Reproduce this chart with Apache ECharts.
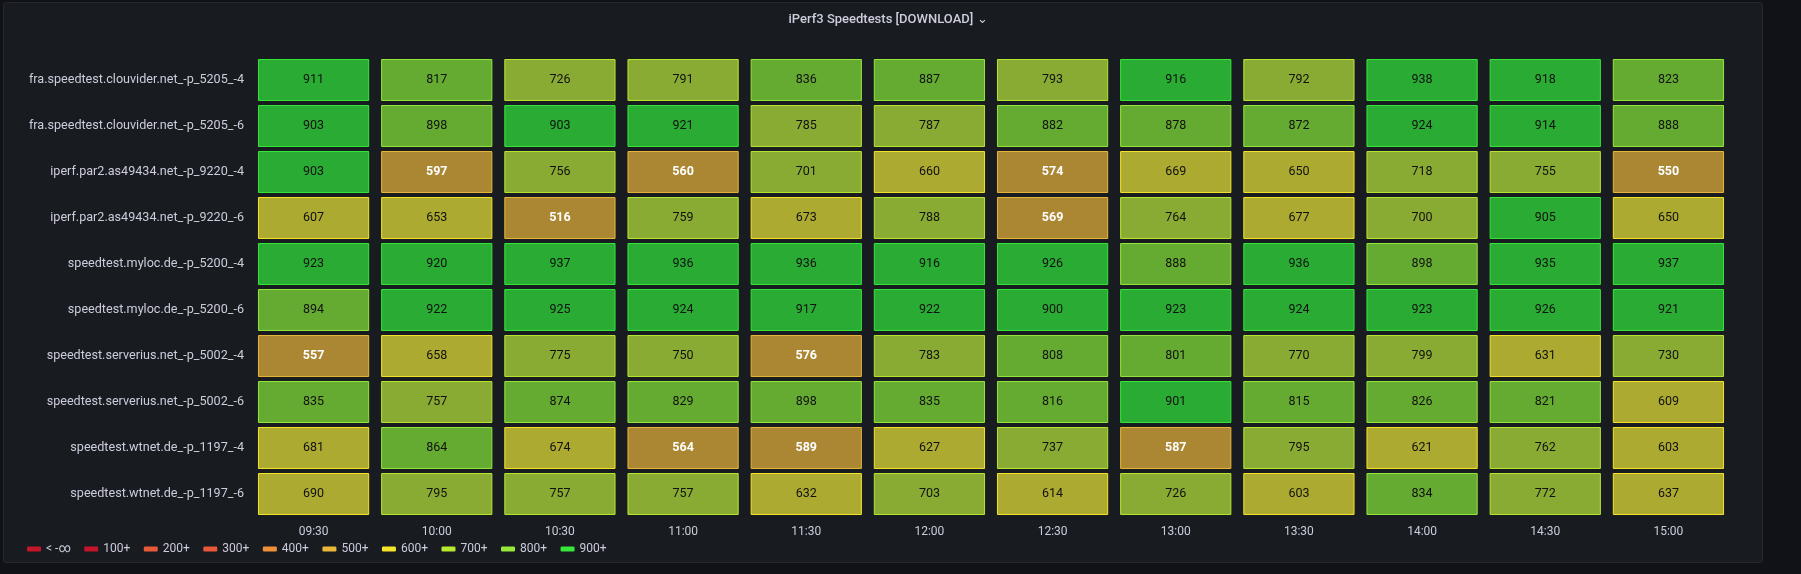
<!DOCTYPE html>
<html lang="en">
<head>
<meta charset="UTF-8">
<title>iPerf3 Speedtests</title>
<script src="https://cdn.jsdelivr.net/npm/echarts@6/dist/echarts.min.js"></script>
<style>
  html, body { margin: 0; padding: 0; background: #111217; }
  #panel { position: absolute; left: 3px; top: 2px; width: 1760px; height: 561px;
           background: #181b1f; border: 1px solid #24272d; border-radius: 3px; box-sizing: border-box; }
  #main { position: absolute; left: 0; top: 0; width: 1801px; height: 574px; }
</style>
</head>
<body>
<div id="panel"></div>
<div id="main"></div>
<script type="text/javascript">
var times = ['09:30', '10:00', '10:30', '11:00', '11:30', '12:00', '12:30', '13:00', '13:30', '14:00', '14:30', '15:00'];
var hosts = [
    'fra.speedtest.clouvider.net_-p_5205_-4',
    'fra.speedtest.clouvider.net_-p_5205_-6',
    'iperf.par2.as49434.net_-p_9220_-4',
    'iperf.par2.as49434.net_-p_9220_-6',
    'speedtest.myloc.de_-p_5200_-4',
    'speedtest.myloc.de_-p_5200_-6',
    'speedtest.serverius.net_-p_5002_-4',
    'speedtest.serverius.net_-p_5002_-6',
    'speedtest.wtnet.de_-p_1197_-4',
    'speedtest.wtnet.de_-p_1197_-6'
];
var speeds = [
    [911, 817, 726, 791, 836, 887, 793, 916, 792, 938, 918, 823],
    [903, 898, 903, 921, 785, 787, 882, 878, 872, 924, 914, 888],
    [903, 597, 756, 560, 701, 660, 574, 669, 650, 718, 755, 550],
    [607, 653, 516, 759, 673, 788, 569, 764, 677, 700, 905, 650],
    [923, 920, 937, 936, 936, 916, 926, 888, 936, 898, 935, 937],
    [894, 922, 925, 924, 917, 922, 900, 923, 924, 923, 926, 921],
    [557, 658, 775, 750, 576, 783, 808, 801, 770, 799, 631, 730],
    [835, 757, 874, 829, 898, 835, 816, 901, 815, 826, 821, 609],
    [681, 864, 674, 564, 589, 627, 737, 587, 795, 621, 762, 603],
    [690, 795, 757, 757, 632, 703, 614, 726, 603, 834, 772, 637]
];
var thresholdNames = ['< -∞', '100+', '200+', '300+', '400+', '500+', '600+', '700+', '800+', '900+'];
var thresholdValues = [-Infinity, 100, 200, 300, 400, 500, 600, 700, 800, 900];
var thresholdColors = ['#c4162a', '#c4162a', '#e8593a', '#e8593a', '#f0903a', '#eab839', '#f5e62a', '#b8e830', '#96e83a', '#37e83a'];
var fillColors = ['#8a2a30', '#8a2a30', '#a5553a', '#a5553a', '#aa7034', '#ab8733', '#adaa32', '#8aab33', '#66ab31', '#2aab33'];

function level(v) {
    var k = 0;
    for (var i = 0; i < thresholdValues.length; i++) if (v >= thresholdValues[i]) k = i;
    return k;
}

var cells = [];
speeds.forEach(function (row, r) {
    row.forEach(function (v, c) { cells.push([c, r, v]); });
});

var chart = echarts.init(document.getElementById('main'));

var series = [{
    type: 'custom',
    data: cells,
    renderItem: function (params, api) {
        var p = api.coord([api.value(0), api.value(1)]);
        var s = api.size([1, 1]);
        var w = s[0] * 0.895, h = s[1] * 0.89;
        var v = api.value(2);
        var k = level(v);
        return {
            type: 'group',
            children: [{
                type: 'rect',
                shape: { x: p[0] - w / 2, y: p[1] - h / 2, width: w, height: h },
                style: { fill: fillColors[k], stroke: thresholdColors[k], lineWidth: 1 }
            }, {
                type: 'text',
                style: {
                    x: p[0], y: p[1], text: String(v), align: 'center', verticalAlign: 'middle',
                    fill: v < 600 ? '#ffffff' : '#111111', fontSize: 12.5,
                    fontWeight: v < 600 ? 'bold' : 'normal', fontFamily: 'Roboto'
                }
            }]
        };
    }
}];
thresholdNames.forEach(function (n, i) {
    series.push({ type: 'custom', name: n, data: [], itemStyle: { color: thresholdColors[i] }, renderItem: function () { return null; } });
});

chart.setOption({
    backgroundColor: 'transparent',
    animation: false,
    title: {
        text: 'iPerf3 Speedtests [DOWNLOAD] \u2304', left: 883, top: 8, textAlign: 'center',
        textStyle: { color: '#ccccdc', fontSize: 13, fontWeight: 500, fontFamily: 'Roboto' }
    },
    legend: {
        left: 22, top: 538, itemWidth: 14, itemHeight: 5, itemGap: 13.5, icon: 'roundRect',
        data: thresholdNames,
        textStyle: { color: '#ccccdc', fontSize: 12, fontFamily: 'Roboto' }
    },
    grid: { left: 252, right: 71, top: 57, bottom: 57 },
    xAxis: {
        type: 'category', data: times,
        axisLine: { show: false }, axisTick: { show: false }, splitLine: { show: false },
        axisLabel: { color: '#ccccdc', fontSize: 12, fontFamily: 'Roboto', margin: 9 }
    },
    yAxis: {
        type: 'category', data: hosts, inverse: true,
        axisLine: { show: false }, axisTick: { show: false },
        axisLabel: { color: '#ccccdc', fontSize: 12.6, fontFamily: 'Roboto', margin: 8 }
    },
    series: series
});
</script>
</body>
</html>
